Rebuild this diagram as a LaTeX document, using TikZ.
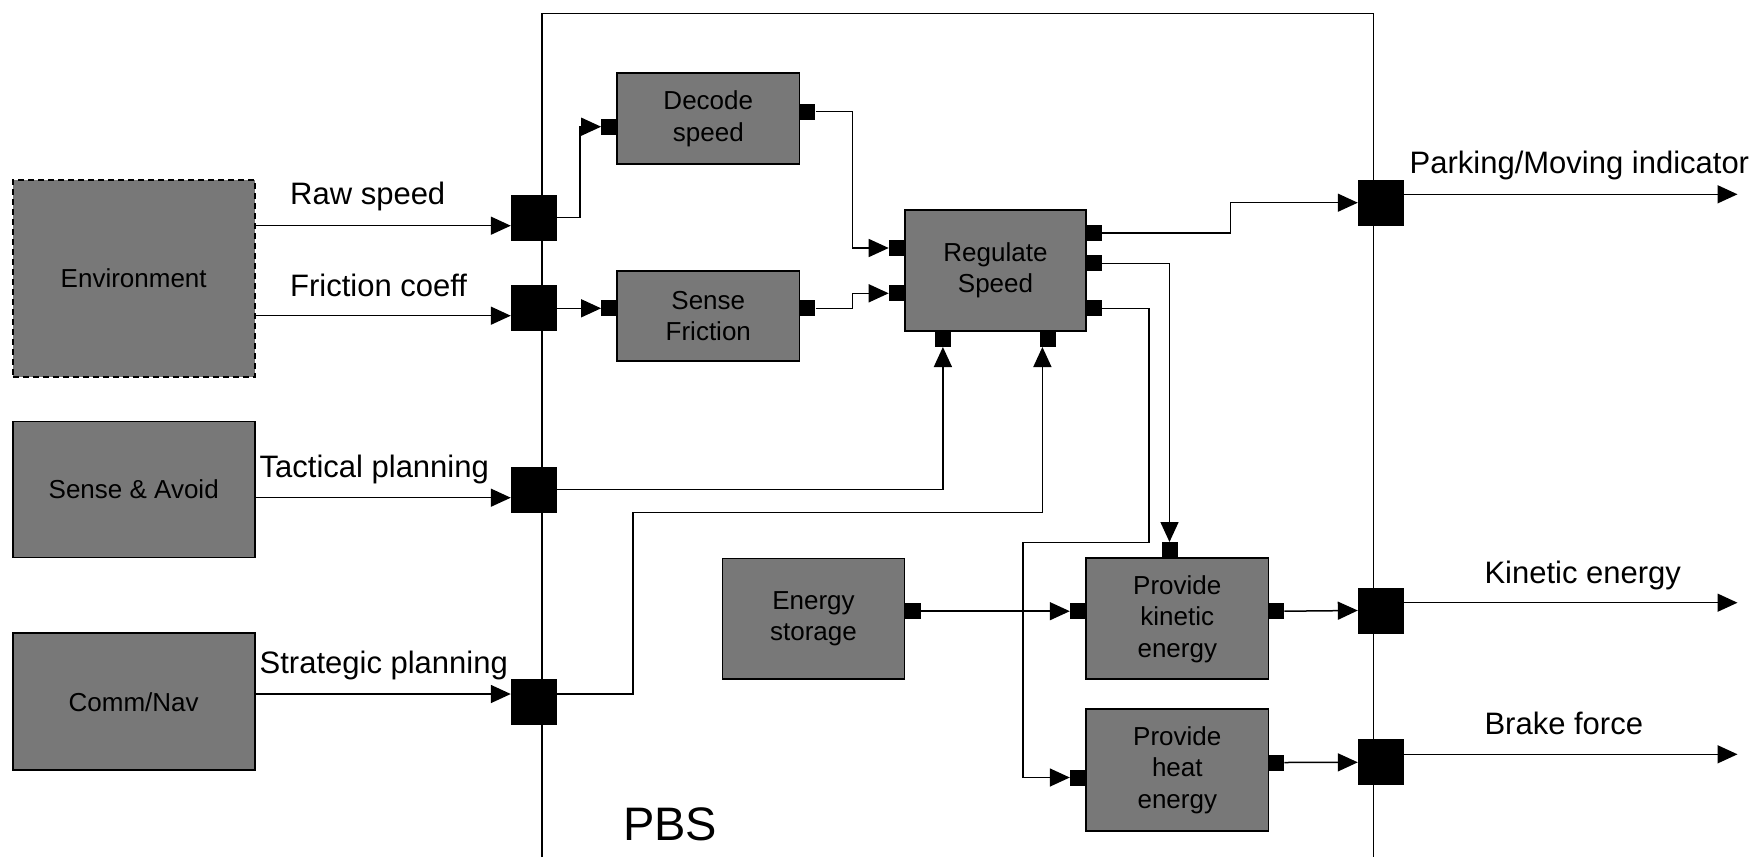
\documentclass[tikz,border=0pt]{standalone}
\usepackage{fontspec}
\setmainfont{Liberation Sans}
\usetikzlibrary{arrows.meta,calc}
\definecolor{boxgray}{RGB}{120,120,120}
\begin{document}
\begin{tikzpicture}[x=1pt,y=-1pt,
  blk/.style={draw=black,fill=boxgray,line width=1.7pt,inner sep=0pt,align=center,font=\fontsize{26}{31.5}\selectfont},
  bport/.style={fill=black,draw=none,inner sep=0pt,minimum width=46pt,minimum height=46pt},
  sport/.style={fill=black,draw=none,inner sep=0pt,minimum width=16pt,minimum height=16pt},
  conn/.style={line width=1.5pt},
  arr/.style={conn,-{Triangle[length=20pt,width=18pt]}},
  lbl/.style={anchor=base west,inner sep=0pt,font=\fontsize{31}{36}\selectfont}]
\useasboundingbox (0,0) rectangle (1762,857);

% PBS frame
\draw[line width=1.5pt] (542,857) -- (542,13.5) -- (1373.5,13.5) -- (1373.5,857);

% external boxes
\node[blk,dashed,dash pattern=on 6pt off 4pt,minimum width=242pt,minimum height=197pt] (env) at (133.7,278.3) {Environment};
\node[blk,minimum width=242pt,minimum height=136pt] (sa) at (133.7,489.5) {Sense \& Avoid};
\node[blk,minimum width=242pt,minimum height=137pt] (cn) at (133.7,701.7) {Comm/Nav};

% internal boxes
\node[blk,minimum width=182.6pt,minimum height=91pt] (dec) at (708.3,118.8) {Decode\\speed};
\node[blk,minimum width=182.6pt,minimum height=90.3pt] (sf) at (708.3,315.8) {Sense\\Friction};
\node[blk,minimum width=181.2pt,minimum height=121pt] (rs) at (995.5,270.5) {Regulate\\Speed};
\node[blk,minimum width=182pt,minimum height=120.4pt] (es) at (813.5,618.7) {Energy\\storage};
\node[blk,minimum width=182.4pt,minimum height=121pt] (pk) at (1177.3,618.8) {Provide\\kinetic\\energy};
\node[blk,minimum width=182.4pt,minimum height=121.4pt] (ph) at (1177.3,770) {Provide\\heat\\energy};

% frame ports
\node[bport] (p1) at (534,217.5) {};
\node[bport] (p2) at (534,308.3) {};
\node[bport] (p3) at (534,489.7) {};
\node[bport] (p4) at (534,701.7) {};
\node[bport] (q1) at (1381,202.7) {};
\node[bport] (q2) at (1381,610.5) {};
\node[bport] (q3) at (1381,762.3) {};

% small ports
\node[sport] (dIn) at (609.3,126.7) {};
\node[sport] (dOut) at (807.3,111.7) {};
\node[sport] (sfIn) at (609.3,308.3) {};
\node[sport] (sfOut) at (807.3,308.3) {};
\node[sport] (rsIn1) at (896.9,248) {};
\node[sport] (rsIn2) at (896.9,293.3) {};
\node[sport] (rsOut1) at (1093.8,233) {};
\node[sport] (rsOut2) at (1093.8,263.3) {};
\node[sport] (rsOut3) at (1093.8,308.3) {};
\node[sport] (rsA) at (942.9,338.8) {};
\node[sport] (rsB) at (1048.4,338.8) {};
\node[sport] (esOut) at (912.6,611.2) {};
\node[sport] (pkIn) at (1078,611.2) {};
\node[sport] (pkTop) at (1169.5,550.2) {};
\node[sport] (pkOut) at (1276.2,611.2) {};
\node[sport] (phIn) at (1078,777.5) {};
\node[sport] (phOut) at (1276.2,762.5) {};

% outgoing end points
\coordinate (e1) at (1737.5,194.3);
\coordinate (e2) at (1737.5,602.7);
\coordinate (e3) at (1737.5,754.3);

% connectors
\draw[arr] (env.east |- 0,225.7) -- (p1.west |- 0,225.7);
\draw[arr] (env.east |- 0,315.7) -- (p2.west |- 0,315.7);
\draw[arr] (sa.east |- 0,497.7) -- (p3.west |- 0,497.7);
\draw[arr] (cn.east |- 0,694) -- (p4.west |- 0,694);

\draw[arr] (p1.east) -- ++(23,0) |- (dIn.west);
\draw[arr] (p2.east) -- (sfIn.west);
\draw[arr] (dOut.east) -- ++(37,0) |- (rsIn1.west);
\draw[arr] (sfOut.east) -- ++(37,0) |- (rsIn2.west);
\draw[arr] (p3.east) -| (rsA.south);
\draw[arr] (p4.east |- 0,694) -| (633.2,512.3) -| ($(rsB.south)+(-6,0)$);

\draw[arr] (rsOut1.east) -- ++(128.4,0) |- (q1.west);
\draw[arr] (rsOut2.east) -| (pkTop.north);
\draw[arr] (rsOut3.east) -| (1148.8,542.7) -- (1022.8,542.7) |- (phIn.west);
\draw[arr] (esOut.east) -- (pkIn.west);
\draw[arr] (pkOut.east) -- (q2.west);
\draw[arr] (phOut.east) -- (q3.west);

\draw[arr] (q1.east |- e1) -- (e1);
\draw[arr] (q2.east |- e2) -- (e2);
\draw[arr] (q3.east |- e3) -- (e3);

% labels
\node[lbl] (lRaw) at (290,204) {Raw speed};
\node[lbl] (lFric) at (290,296) {Friction coeff};
\node[lbl] (lTac) at (259.5,477.3) {Tactical planning};
\node[lbl] (lStr) at (259.5,673.3) {Strategic planning};
\node[lbl] (lPark) at (1409.5,173) {Parking/Moving indicator};
\node[lbl] (lKin) at (1484.3,583) {Kinetic energy};
\node[lbl] (lBrake) at (1484.3,734) {Brake force};
\node[lbl,font=\fontsize{47}{52}\selectfont] (lPBS) at (622.8,840.7) {PBS};
\end{tikzpicture}
\end{document}
